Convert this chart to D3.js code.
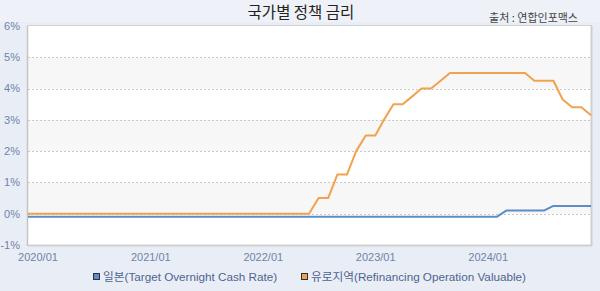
<!DOCTYPE html>
<html>
<head>
<meta charset="utf-8">
<script src="https://cdn.jsdelivr.net/npm/d3@7"></script>
<style>
  html, body { margin: 0; padding: 0; background: #e9eef6; }
  svg { display: block; }
  text { font-family: "Liberation Sans", "Noto Sans CJK KR", sans-serif; }
</style>
</head>
<body>
<svg id="chart" width="600" height="291"></svg>
<script>
// ---- data ----
const title = "국가별 정책 금리";
const source = "출처 : 연합인포맥스";
const months = [
  "2020-01","2020-02","2020-03","2020-04","2020-05","2020-06","2020-07","2020-08","2020-09","2020-10","2020-11","2020-12",
  "2021-01","2021-02","2021-03","2021-04","2021-05","2021-06","2021-07","2021-08","2021-09","2021-10","2021-11","2021-12",
  "2022-01","2022-02","2022-03","2022-04","2022-05","2022-06","2022-07","2022-08","2022-09","2022-10","2022-11","2022-12",
  "2023-01","2023-02","2023-03","2023-04","2023-05","2023-06","2023-07","2023-08","2023-09","2023-10","2023-11","2023-12",
  "2024-01","2024-02","2024-03","2024-04","2024-05","2024-06","2024-07","2024-08","2024-09","2024-10","2024-11","2024-12",
  "2025-01"
];
const japan = [
  -0.1,-0.1,-0.1,-0.1,-0.1,-0.1,-0.1,-0.1,-0.1,-0.1,-0.1,-0.1,
  -0.1,-0.1,-0.1,-0.1,-0.1,-0.1,-0.1,-0.1,-0.1,-0.1,-0.1,-0.1,
  -0.1,-0.1,-0.1,-0.1,-0.1,-0.1,-0.1,-0.1,-0.1,-0.1,-0.1,-0.1,
  -0.1,-0.1,-0.1,-0.1,-0.1,-0.1,-0.1,-0.1,-0.1,-0.1,-0.1,-0.1,
  -0.1,-0.1,-0.1,0.1,0.1,0.1,0.1,0.1,0.25,0.25,0.25,0.25,
  0.25
];
const euro = [
  0,0,0,0,0,0,0,0,0,0,0,0,
  0,0,0,0,0,0,0,0,0,0,0,0,
  0,0,0,0,0,0,0,0.5,0.5,1.25,1.25,2.0,
  2.5,2.5,3.0,3.5,3.5,3.75,4.0,4.0,4.25,4.5,4.5,4.5,
  4.5,4.5,4.5,4.5,4.5,4.5,4.25,4.25,4.25,3.65,3.40,3.40,
  3.15
];
const seriesNames = ["일본(Target Overnight Cash Rate)", "유로지역(Refinancing Operation Valuable)"];
const seriesColors = ["#5b8ec6", "#f2a24c"];
const yTicks = [-1, 0, 1, 2, 3, 4, 5, 6];
const xTickLabels = ["2020/01", "2021/01", "2022/01", "2023/01", "2024/01"];

// ---- layout ----
const W = 600, H = 291;
const m = { left: 28, right: 9, top: 26, bottom: 46 };
const svg = d3.select("#chart");
const parse = d3.timeParse("%Y-%m");
const dates = months.map(parse);
const x = d3.scaleTime().domain([dates[0], dates[dates.length - 1]]).range([m.left, W - m.right]);
const y = d3.scaleLinear().domain([-1, 6]).range([H - m.bottom, m.top]);

// title band
svg.append("rect").attr("x", 0).attr("y", 0).attr("width", W).attr("height", 22).attr("fill", "#eef2f8");
svg.append("text").attr("x", 301).attr("y", 18).attr("text-anchor", "middle")
  .attr("font-size", 15.5).attr("fill", "#222")
  .style("font-family", "'Noto Sans CJK KR', sans-serif").text(title);
svg.append("text").attr("x", 578).attr("y", 22).attr("text-anchor", "end")
  .attr("font-size", 11).attr("fill", "#444")
  .style("font-family", "'Noto Sans CJK KR', sans-serif").text(source);

// plot background
const pw = W - m.right - m.left, ph = H - m.bottom - m.top;
svg.append("rect").attr("x", m.left).attr("y", m.top).attr("width", pw).attr("height", ph).attr("fill", "#ffffff");
// alternating bands
const bands = [[4, 5], [2, 3], [0, 1]];
svg.append("g").selectAll("rect").data(bands).join("rect")
  .attr("x", m.left).attr("width", pw)
  .attr("y", d => y(d[1])).attr("height", d => y(d[0]) - y(d[1]))
  .attr("fill", "#f7f7f7");

// gridlines
svg.append("g").selectAll("line").data(yTicks.filter(t => t > -1 && t < 6)).join("line")
  .attr("x1", m.left).attr("x2", W - m.right)
  .attr("y1", d => Math.round(y(d)) + 0.5).attr("y2", d => Math.round(y(d)) + 0.5)
  .attr("stroke", "#c9c9c9").attr("stroke-width", 1).attr("stroke-dasharray", "2,2");

// plot border
svg.append("rect").attr("x", m.left - 0.5).attr("y", m.top - 0.5).attr("width", pw + 1).attr("height", ph + 1)
  .attr("fill", "none").attr("stroke", "#d2d2d2").attr("stroke-width", 1);
svg.append("line").attr("x1", m.left - 0.5).attr("x2", m.left - 0.5).attr("y1", m.top).attr("y2", H - m.bottom + 1)
  .attr("stroke", "#c4c4c4").attr("stroke-width", 1.5);
svg.append("line").attr("x1", m.left).attr("x2", W - m.right + 1).attr("y1", H - m.bottom + 0.5).attr("y2", H - m.bottom + 0.5)
  .attr("stroke", "#cfcfcf").attr("stroke-width", 2);
svg.append("line").attr("x1", W - m.right + 0.5).attr("x2", W - m.right + 0.5).attr("y1", m.top).attr("y2", H - m.bottom + 1)
  .attr("stroke", "#cfcfcf").attr("stroke-width", 2);

// y axis labels
svg.append("g").selectAll("text").data(yTicks).join("text")
  .attr("x", 20).attr("y", d => y(d)).attr("dy", "0.35em").attr("text-anchor", "end")
  .attr("font-size", 11).attr("fill", "#6f83aa").text(d => d + "%");

// x axis labels
const xTickDates = xTickLabels.map(s => d3.timeParse("%Y/%m")(s));
svg.append("g").selectAll("text").data(xTickDates).join("text")
  .attr("x", (d) => x(d) + 10).attr("y", 261).attr("text-anchor", "middle")
  .attr("font-size", 11).attr("fill", "#6f83aa")
  .text((d, i) => xTickLabels[i]);

// lines
const line = d3.line().x((d, i) => x(dates[i])).y(d => y(d));
[japan, euro].forEach((s, k) => {
  svg.append("path").datum(s).attr("d", line)
    .attr("fill", "none").attr("stroke", seriesColors[k]).attr("stroke-width", 2)
    .attr("stroke-linejoin", "round");
});

// legend
const legendX = [93, 301];
const lg = svg.append("g").selectAll("g").data(seriesNames).join("g")
  .attr("transform", (d, i) => `translate(${legendX[i]},277)`);
lg.append("rect").attr("x", 0.5).attr("y", -3.5).attr("width", 6).attr("height", 6)
  .attr("fill", (d, i) => seriesColors[i]).attr("stroke", "#2b3240").attr("stroke-width", 1);
lg.append("text").attr("x", 10).attr("y", 0).attr("dy", "0.35em")
  .attr("font-size", 11.7).attr("fill", "#4f6390").text(d => d);
</script>
</body>
</html>
